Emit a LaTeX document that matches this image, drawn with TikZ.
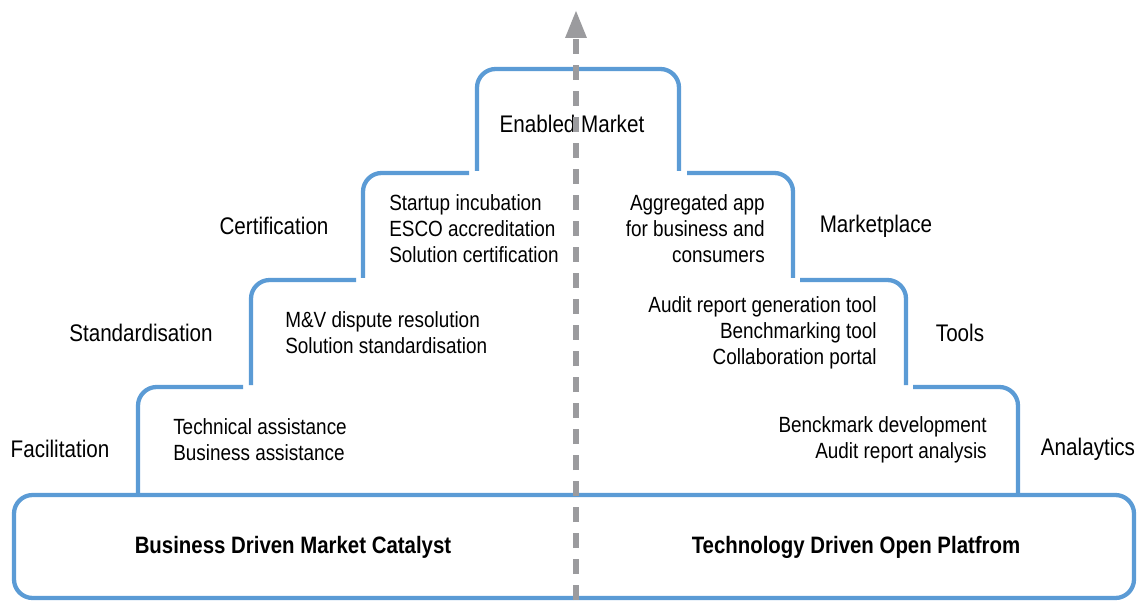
\documentclass[tikz,border=0pt]{standalone}
\usepackage{fontspec}
\setmainfont{Liberation Sans}[FakeStretch=0.86]
\usetikzlibrary{arrows.meta}
\definecolor{stepblue}{RGB}{91,155,213}
\definecolor{arrowgray}{RGB}{155,155,158}

\begin{document}
\begin{tikzpicture}[x=0.75pt, y=-0.75pt,
	stepline/.style={stepblue, line width=3.2pt, rounded corners=14pt},
	level/.style={font=\fontsize{18}{21}\selectfont, inner sep=0pt},
	item/.style={font=\fontsize{16.5}{19.5}\selectfont, inner sep=0pt},
	base/.style={font=\bfseries\fontsize{17.8}{21}\selectfont, inner sep=0pt}]
	\useasboundingbox (0,0) rectangle (1139,602);
	% base box
	\draw[stepline] (14,495) rectangle (1134,598);
	% left steps
	\draw[stepline] (138,493) -- (138,387) -- (243,387);
	\draw[stepline] (251,385) -- (251,280) -- (356,280);
	\draw[stepline] (363,278) -- (363,173) -- (469,173);
	% top step
	\draw[stepline] (477,171) -- (477,69) -- (679,69) -- (679,171);
	% right steps
	\draw[stepline] (687,173) -- (793,173) -- (793,278);
	\draw[stepline] (800,280) -- (906,280) -- (906,385);
	\draw[stepline] (913,387) -- (1018,387) -- (1018,493);
	% level names
	\node[level] (enabled) at (572,124) {Enabled Market};
	\node[level] (certification) at (274,226) {Certification};
	\node[level] (standard) at (141,333) {Standardisation};
	\node[level] (facilitation) at (60,449) {Facilitation};
	\node[level] (marketplace) at (876,226) {Marketplace};
	\node[level] (tools) at (960,333) {Tools};
	\node[level] (analytics) at (1088,449) {Analaytics};
	% items
	\node[item, anchor=west, align=left] (facil items) at (173,440) {Technical assistance\\Business assistance};
	\node[item, anchor=west, align=left] (standard items) at (285,333) {M\&V dispute resolution\\Solution standardisation};
	\node[item, anchor=west, align=left] (cert items) at (389,229) {Startup incubation\\ESCO accreditation\\Solution certification};
	\node[item, anchor=east, align=right] (market items) at (765,229) {Aggregated app\\for business and\\consumers};
	\node[item, anchor=east, align=right] (tools items) at (877,333) {Audit report generation tool\\Benchmarking tool\\Collaboration portal};
	\node[item, anchor=east, align=right] (analytics items) at (987,440) {Benckmark development\\Audit report analysis};
	% base labels
	\node[base] (catalyst) at (293,547) {Business Driven Market Catalyst};
	\node[base] (platform) at (856,547) {Technology Driven Open Platfrom};
	% dashed arrow
	\coordinate (arrow start) at (576,600);
	\coordinate (arrow end) at (576,10);
	\draw[arrowgray, line width=4.5pt, dash pattern=on 11pt off 8.5pt, -{Triangle[width=15pt,length=21pt]}] (arrow start) -- (arrow end);
\end{tikzpicture}
\end{document}
